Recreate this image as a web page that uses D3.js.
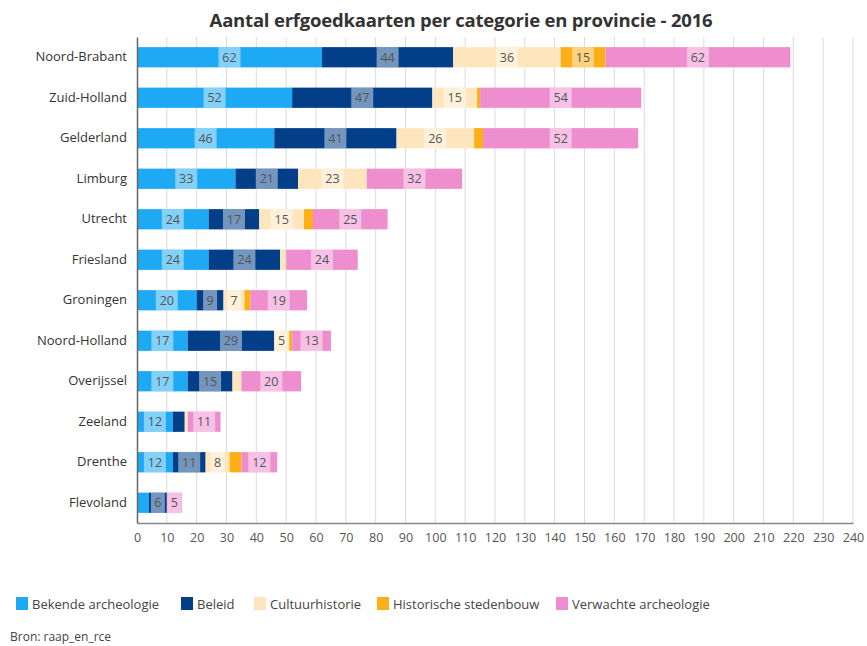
<!DOCTYPE html>
<html><head><meta charset="utf-8">
<script src="https://cdn.jsdelivr.net/npm/d3@7"></script>
<style>body{margin:0;background:#fff;font-family:"Open Sans",sans-serif;}</style>
</head><body>
<svg id="c" width="867" height="646"></svg>
<script>
const provinces = ["Noord-Brabant","Zuid-Holland","Gelderland","Limburg","Utrecht","Friesland","Groningen","Noord-Holland","Overijssel","Zeeland","Drenthe","Flevoland"];
const seriesNames = ["Bekende archeologie","Beleid","Cultuurhistorie","Historische stedenbouw","Verwachte archeologie"];
const bekende     = [62,52,46,33,24,24,20,17,17,12,12,4];
const beleid      = [44,47,41,21,17,24,9,29,15,4,11,6];
const cultuur     = [36,15,26,23,15,2,7,5,3,1,8,0];
const stedenbouw  = [15,1,3,0,3,0,2,1,0,0,4,0];
const verwachte   = [62,54,52,32,25,24,19,13,20,11,12,5];
const colors = ["#1ea9f4","#023f88","#fde6bd","#fcaf17","#ee8ecf"];
const xTicks = d3.range(0,241,10);

const svg = d3.select("#c");
const m = {l:137, r:853, t:37, b:523};
const x = d3.scaleLinear().domain([0,240]).range([m.l,m.r]);
const y = d3.scaleBand().domain(provinces).range([m.t,m.b]).paddingInner(0.5).paddingOuter(0.25);

const rows = provinces.map((p,i)=>({province:p,
  "Bekende archeologie":bekende[i],"Beleid":beleid[i],"Cultuurhistorie":cultuur[i],
  "Historische stedenbouw":stedenbouw[i],"Verwachte archeologie":verwachte[i]}));
const stack = d3.stack().keys(seriesNames)(rows);

// title
svg.append("text").attr("x",461).attr("y",27).attr("text-anchor","middle")
  .attr("font-size",18.5).attr("font-weight","bold").attr("fill","#333")
  .attr("font-family","'Open Sans',sans-serif").attr("letter-spacing","-0.2")
  .text("Aantal erfgoedkaarten per categorie en provincie - 2016");

// gridlines
svg.append("g").selectAll("line").data(xTicks.slice(1)).join("line")
  .attr("x1",d=>x(d)).attr("x2",d=>x(d)).attr("y1",m.t).attr("y2",m.b)
  .attr("stroke","#dcdcdc").attr("stroke-width",1);

// bars
const g = svg.append("g");
stack.forEach((s,si)=>{
  const sg = g.append("g");
  sg.selectAll("rect").data(s).join("rect")
    .attr("x",d=>x(d[0])).attr("width",d=>x(d[1])-x(d[0]))
    .attr("y",d=>y(d.data.province)).attr("height",y.bandwidth())
    .attr("fill",colors[si]);
  const lab = s.filter(d=>d[1]-d[0]>=5);
  const lg = sg.selectAll("g.lab").data(lab).join("g").attr("class","lab");
  lg.each(function(d){
    const v = d[1]-d[0];
    const cx = (x(d[0])+x(d[1]))/2;
    const w = String(v).length>1?22:14;
    d3.select(this).append("rect").attr("x",cx-w/2).attr("width",w)
      .attr("y",y(d.data.province)).attr("height",y.bandwidth())
      .attr("fill","#fff").attr("fill-opacity",0.45);
    d3.select(this).append("text").attr("x",cx).attr("y",y(d.data.province)+y.bandwidth()/2)
      .attr("dy","0.36em").attr("text-anchor","middle").attr("font-size",12.5)
      .attr("fill","#555").text(v);
  });
});

// axes
const xa = svg.append("g").attr("transform",`translate(0,${m.b})`)
  .call(d3.axisBottom(x).tickValues(xTicks).tickSize(0).tickPadding(10));
xa.select(".domain").attr("stroke","#888").attr("stroke-width",1.5);
xa.selectAll("text").attr("font-size",12.5).attr("fill","#555").attr("font-family","'Open Sans',sans-serif");

const ya = svg.append("g").attr("transform",`translate(${m.l},0)`)
  .call(d3.axisLeft(y).tickSize(0).tickPadding(10));
ya.select(".domain").attr("stroke","#666").attr("stroke-width",1.5);
ya.selectAll("text").attr("font-size",13).attr("fill","#333").attr("font-family","'Open Sans',sans-serif");

// legend
const legX = [16,181,254,377,556];
const lgd = svg.append("g");
seriesNames.forEach((n,i)=>{
  lgd.append("rect").attr("x",legX[i]).attr("y",597).attr("width",12).attr("height",13).attr("fill",colors[i]);
  lgd.append("text").attr("x",legX[i]+16).attr("y",604).attr("dy","0.35em")
    .attr("font-size",13).attr("fill","#444").text(n);
});
svg.append("text").attr("x",10).attr("y",641).attr("font-size",12).attr("fill","#444").text("Bron: raap_en_rce");
</script>
</body></html>
